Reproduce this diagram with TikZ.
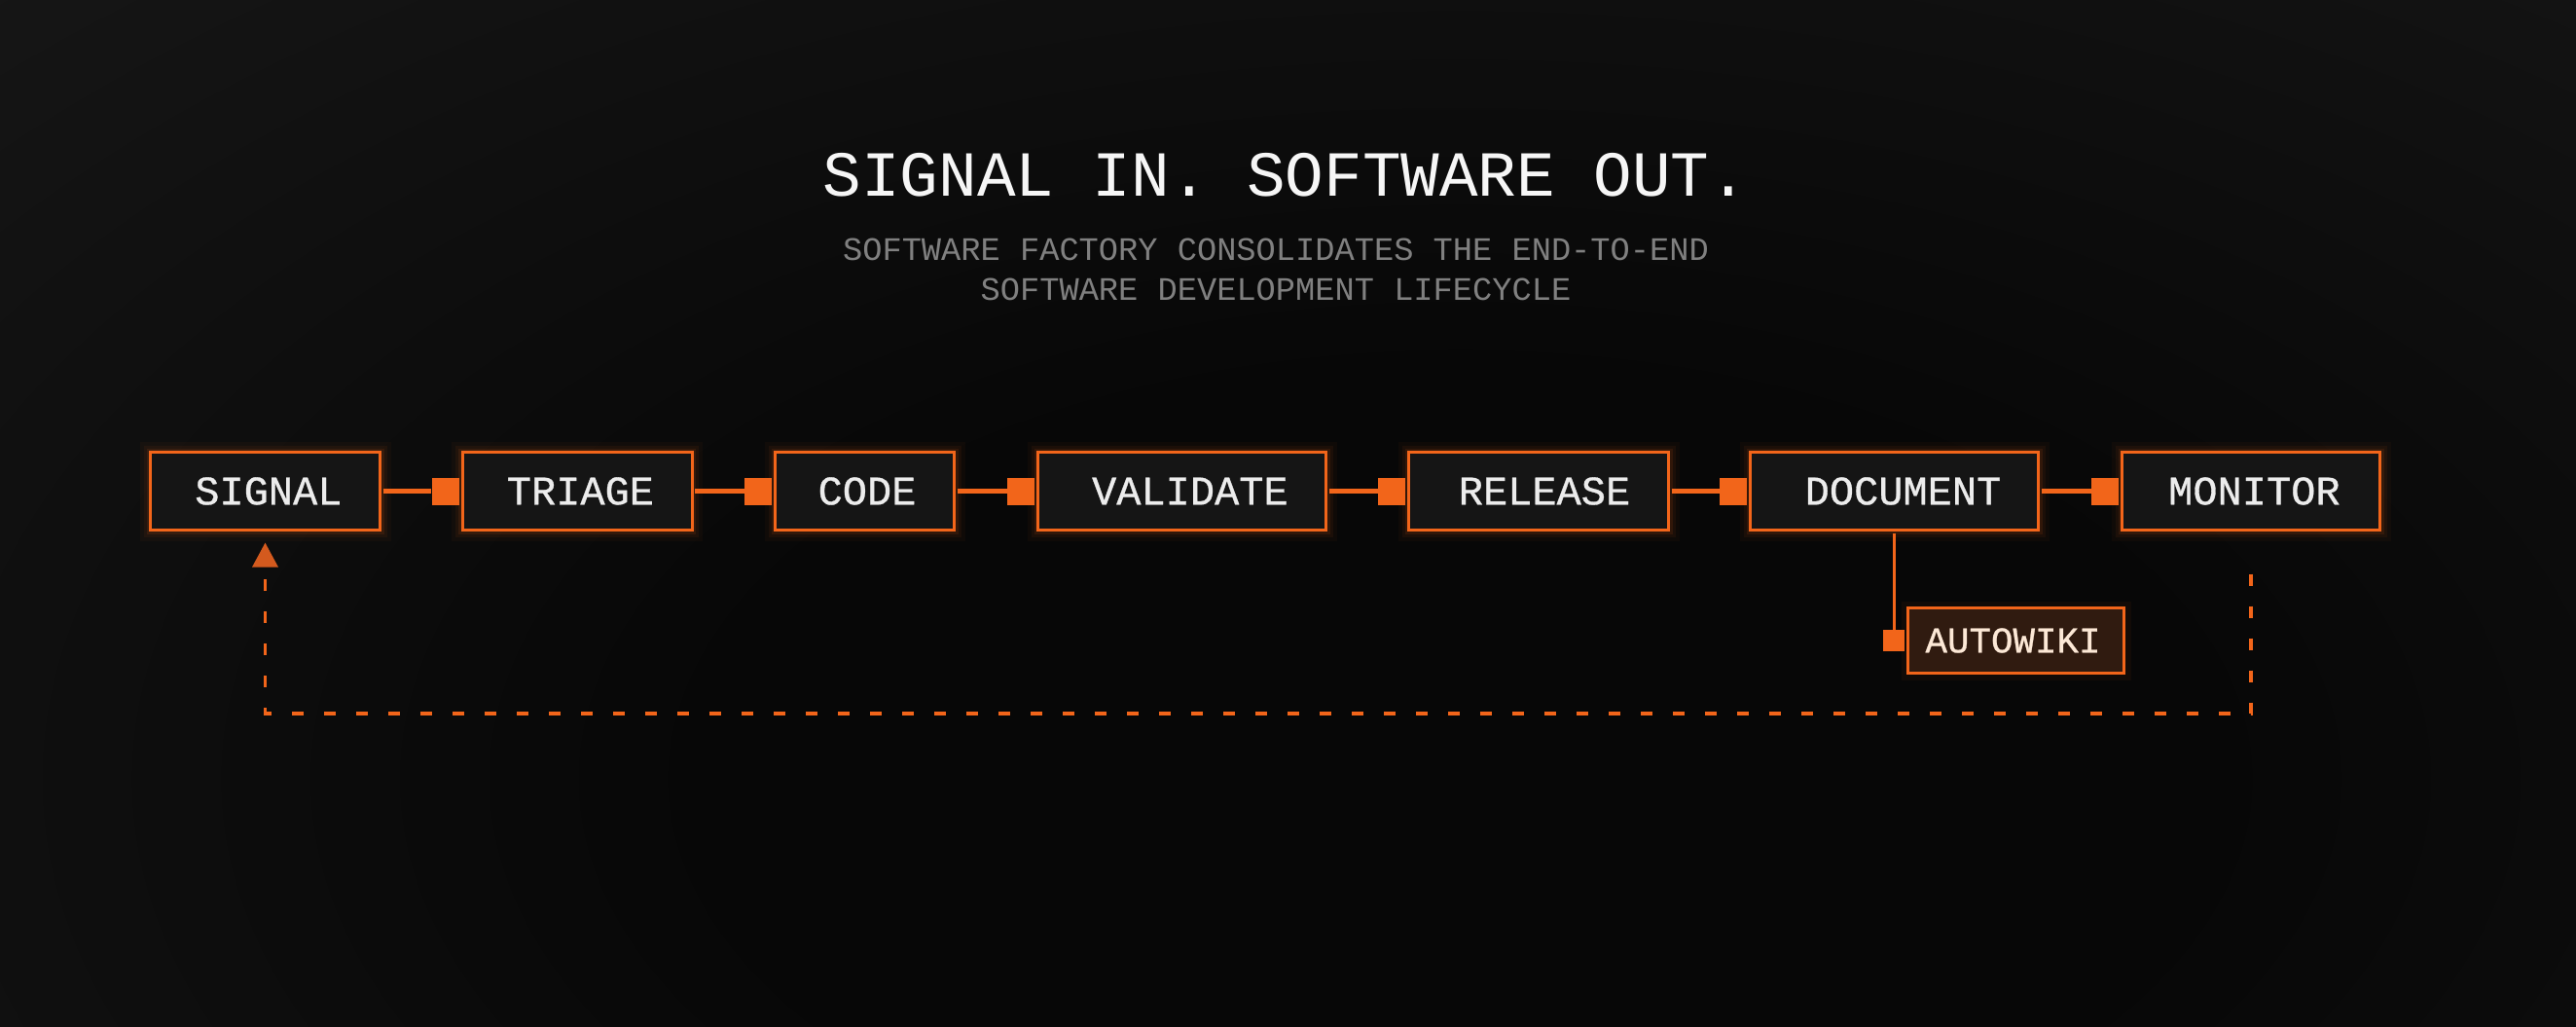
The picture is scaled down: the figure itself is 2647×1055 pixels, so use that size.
\documentclass[tikz,border=0pt]{standalone}
\usepackage{fontspec}
\newfontfamily\monofont{Liberation Mono}
\newfontfamily\labelfont[FakeBold=0.7]{Liberation Mono}
\usetikzlibrary{arrows.meta}
\definecolor{orng}{RGB}{242,101,26}
\definecolor{arrowc}{RGB}{212,90,30}
\definecolor{boxfill}{RGB}{21,21,21}
\definecolor{labeltxt}{RGB}{236,236,236}
\definecolor{titletxt}{RGB}{246,246,246}
\definecolor{subtxt}{RGB}{128,128,128}
\definecolor{wikifill}{RGB}{48,27,16}
\definecolor{wikitxt}{RGB}{252,232,214}
\definecolor{bgin}{RGB}{7,7,7}
\definecolor{bgout}{RGB}{30,30,30}
\pgfdeclareradialshading{bgshade}{\pgfpoint{0bp}{0bp}}{color(0bp)=(bgin); color(8bp)=(bgin); color(30bp)=(bgout); color(50bp)=(bgout)}
\begin{document}
\begin{tikzpicture}[x=0.5pt,y=-0.5pt,
  stage/.style={draw=orng, line width=1.5pt, fill=boxfill, minimum height=40pt,
    inner sep=0pt, text=labeltxt, font=\labelfont\fontsize{21}{24}\selectfont,
    preaction={draw=orng, line width=11pt, draw opacity=0.035},
    preaction={draw=orng, line width=7pt, draw opacity=0.06},
    preaction={draw=orng, line width=4pt, draw opacity=0.10}},
  nudge/.style={execute at begin node={\hspace*{#1}}},
  wiki/.style={draw=orng, line width=1.5pt, fill=wikifill, minimum height=33.5pt,
    minimum width=111pt, inner sep=0pt, text=wikitxt,
    font=\labelfont\fontsize{18.75}{22}\selectfont,
    preaction={draw=orng, line width=7pt, draw opacity=0.05}},
  joint/.style={fill=orng, minimum size=14pt, inner sep=0pt, anchor=east},
  conn/.style={draw=orng, line width=2.35pt},
  branch/.style={draw=orng, line width=1.2pt},
  feedback/.style={draw=orng, line width=1.65pt, dash pattern=on 6pt off 10.5pt,
    dash phase=8.25pt, -{Triangle[width=13pt,length=12.5pt,color=arrowc,fill=arrowc]}},
  headline/.style={anchor=base, text=titletxt, inner sep=0pt,
    font=\monofont\fontsize{33}{40}\selectfont},
  subline/.style={anchor=base, text=subtxt, inner sep=0pt,
    font=\monofont\fontsize{16.85}{20}\selectfont}
]
\useasboundingbox (0,0) rectangle (2647,1055);
\begin{scope}
  \clip (0,0) rectangle (2647,1055);
  \fill[bgin] (0,0) rectangle (2647,1055);
  \shade[shading=bgshade] (-900,-500) rectangle (3900,2100);
\end{scope}

% titles
\node[headline] (title) at (1321,201) {SIGNAL IN. SOFTWARE OUT.};
\node[subline] (sub1) at (1311,267) {SOFTWARE FACTORY CONSOLIDATES THE END-TO-END};
\node[subline] (sub2) at (1311,308) {SOFTWARE DEVELOPMENT LIFECYCLE};

% stages
\node[stage, nudge=3.4pt, minimum width=118pt]   (signal)   at (272.5,504.5)  {SIGNAL};
\node[stage, nudge=3.4pt, minimum width=118pt]   (triage)   at (593,504.5)    {TRIAGE};
\node[stage, nudge=2.5pt, minimum width=92pt]    (code)     at (888.5,504.5)  {CODE};
\node[stage, nudge=8.4pt, minimum width=148pt]   (validate) at (1214.5,504.5) {VALIDATE};
\node[stage, nudge=6pt,   minimum width=133.5pt] (release)  at (1581,504.5)   {RELEASE};
\node[stage, nudge=9pt,   minimum width=148pt]   (document) at (1946.5,504.5) {DOCUMENT};
\node[stage, nudge=3.4pt, minimum width=132.5pt] (monitor)  at (2313,504.5)   {MONITOR};

% joints
\node[joint] (j2) at ([xshift=-0.75pt]triage.west) {};
\node[joint] (j3) at ([xshift=-0.75pt]code.west) {};
\node[joint] (j4) at ([xshift=-0.75pt]validate.west) {};
\node[joint] (j5) at ([xshift=-0.75pt]release.west) {};
\node[joint] (j6) at ([xshift=-0.75pt]document.west) {};
\node[joint] (j7) at ([xshift=-0.75pt]monitor.west) {};

% connectors
\draw[conn] ([xshift=0.75pt]signal.east)   -- (j2.west);
\draw[conn] ([xshift=0.75pt]triage.east)   -- (j3.west);
\draw[conn] ([xshift=0.75pt]code.east)     -- (j4.west);
\draw[conn] ([xshift=0.75pt]validate.east) -- (j5.west);
\draw[conn] ([xshift=0.75pt]release.east)  -- (j6.west);
\draw[conn] ([xshift=0.75pt]document.east) -- (j7.west);

% autowiki branch
\node[wiki, nudge=-3pt] (autowiki) at (2071.5,658) {AUTOWIKI};
\node[joint, minimum size=11pt] (ja) at ([xshift=-0.75pt]autowiki.west) {};
\draw[branch] ([yshift=-0.75pt]document.south) -- (document.south |- ja.north);

% feedback loop
\coordinate (fbstart) at ([yshift=-13.5pt]monitor.south);
\coordinate (fbcornerR) at (2313,733);
\coordinate (fbcornerL) at (signal.south |- fbcornerR);
\coordinate (fbtip) at ([yshift=-5.75pt]signal.south);
\draw[feedback] (fbstart) -- (fbcornerR) -- (fbcornerL) -- (fbtip);
\end{tikzpicture}
\end{document}
